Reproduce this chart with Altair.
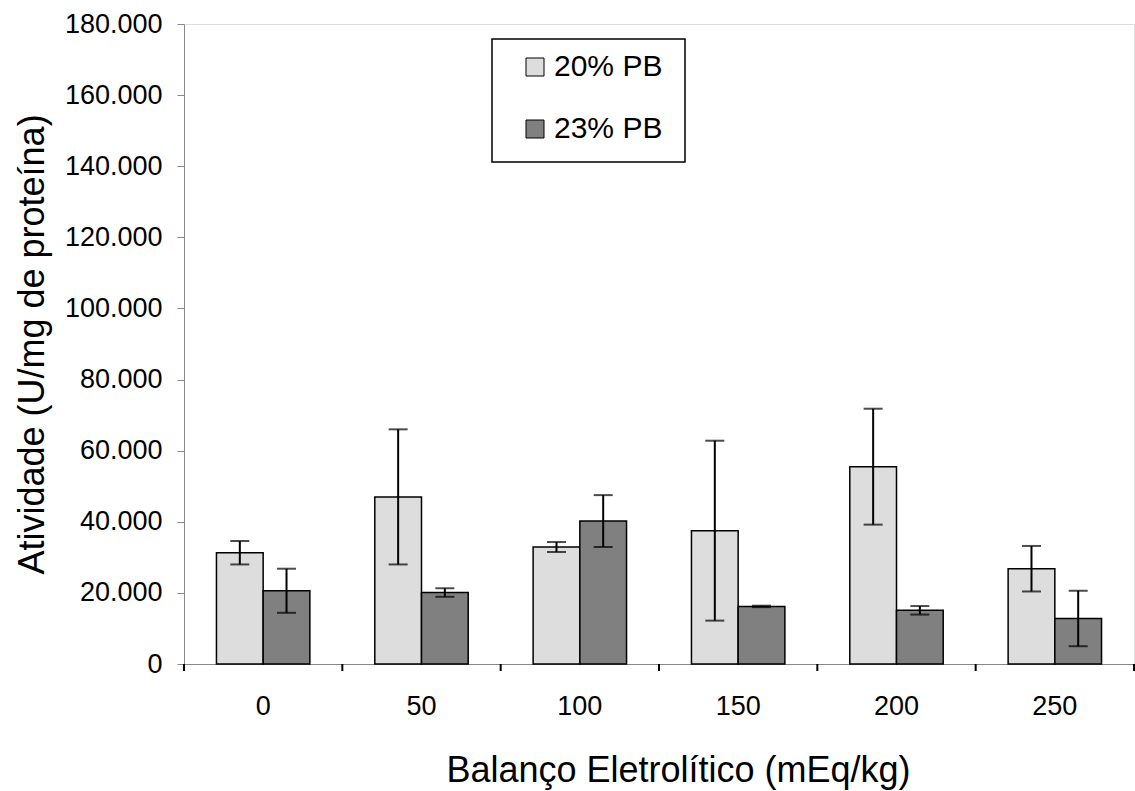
import altair as alt
import pandas as pd

# ---- data ----
categories = ["0", "50", "100", "150", "200", "250"]
series_names = ["20% PB", "23% PB"]
mean_20 = [31300, 47000, 32900, 37500, 55500, 26800]
err_20 = [3300, 19000, 1400, 25300, 16300, 6400]
mean_23 = [20600, 20100, 40200, 16200, 15100, 12800]
err_23 = [6200, 1200, 7300, 200, 1200, 7800]
y_ticks = [0, 20000, 40000, 60000, 80000, 100000, 120000, 140000, 160000, 180000]
colors = ["#dddddd", "#808080"]

rows = []
for s, means, errs in zip(series_names, [mean_20, mean_23], [err_20, err_23]):
    for c, m, e in zip(categories, means, errs):
        rows.append({"cat": c, "serie": s, "mean": m, "low": m - e, "high": m + e})
df = pd.DataFrame(rows)
cat_df = pd.DataFrame({"cat": categories})

W, H = 950, 640
FONT = "Liberation Sans"

x_scale = alt.Scale(domain=categories, paddingInner=0, paddingOuter=0)
y_scale = alt.Scale(domain=[0, 180000], nice=False, zero=True)

x_axis = alt.Axis(
    title="Balanço Eletrolítico (mEq/kg)",
    labelAngle=0, ticks=False, labelFontSize=27, labelPadding=50,
    labelBaseline="alphabetic",
    titleFontSize=36, titleFontWeight="normal",
    titleX=494, titleY=117, titleAlign="center", titleBaseline="alphabetic",
)
y_axis = alt.Axis(
    title="Atividade (U/mg de proteína)",
    values=y_ticks, labelExpr="replace(format(datum.value, ',d'), ',', '.')",
    tickSize=7, labelPadding=15, labelFontSize=27,
    titleFontSize=36, titleFontWeight="normal",
    titleAngle=270, titleX=-141, titleY=320, titleAlign="center",
    titleBaseline="alphabetic", grid=False,
)

X = alt.X("cat:N", sort=categories, scale=x_scale, axis=x_axis)
XO = alt.XOffset("serie:N", sort=series_names,
                 scale=alt.Scale(domain=series_names, paddingInner=0, paddingOuter=0.695))

bars = alt.Chart(df).mark_bar(stroke="black", strokeWidth=1.5).encode(
    x=X,
    xOffset=XO,
    y=alt.Y("mean:Q", scale=y_scale, axis=y_axis),
    color=alt.Color(
        "serie:N", sort=series_names,
        scale=alt.Scale(domain=series_names, range=colors),
        legend=alt.Legend(
            title=None, orient="none", legendX=308, legendY=12,
            padding=16, strokeColor=None,
            symbolType="square", symbolSize=324, symbolStrokeColor="black",
            symbolStrokeWidth=1, symbolOffset=12, labelOffset=4,
            labelFontSize=30, labelColor="black", rowPadding=32,
        ),
    ),
)

# frame around the legend
legend_frame = alt.Chart(pd.DataFrame({"a": [0]})).mark_rect(
    fill="white", stroke="black", strokeWidth=1.5
).encode(
    x=alt.value(308), x2=alt.value(501), y=alt.value(15), y2=alt.value(138),
)

err = alt.Chart(df).mark_rule(color="black", strokeWidth=2).encode(
    x=X, xOffset=XO,
    y=alt.Y("low:Q", scale=y_scale, axis=y_axis), y2="high:Q",
)
cap_low = alt.Chart(df).mark_tick(color="black", size=19, thickness=2).encode(
    x=X, xOffset=XO, y=alt.Y("low:Q", scale=y_scale, axis=y_axis),
)
cap_high = alt.Chart(df).mark_tick(color="black", size=19, thickness=2).encode(
    x=X, xOffset=XO, y=alt.Y("high:Q", scale=y_scale, axis=y_axis),
)

xticks = alt.Chart(cat_df).mark_rule(color="black", strokeWidth=2).encode(
    x=alt.X("cat:N", sort=categories, scale=x_scale, axis=x_axis, bandPosition=0),
    y=alt.value(H), y2=alt.value(H + 7),
)
last_tick = alt.Chart(pd.DataFrame({"a": [0]})).mark_rule(color="black", strokeWidth=2).encode(
    x=alt.value(W), y=alt.value(H), y2=alt.value(H + 7),
)

chart = alt.layer(legend_frame, bars, err, cap_low, cap_high, xticks, last_tick).properties(
    width=W, height=H,
    autosize=alt.AutoSizeParams(type="none"),
    padding={"left": 184, "top": 24, "right": 1, "bottom": 127},
    background="white",
).configure_view(stroke=None).configure_axis(
    domainColor="black", domainWidth=2, tickColor="black", tickWidth=2,
    labelColor="black", titleColor="black", labelFont=FONT, titleFont=FONT,
    titleFontWeight="normal",
).configure_legend(labelFont=FONT).configure(font=FONT)

chart.save("out.html", embed_options={"renderer": "svg", "actions": False})
